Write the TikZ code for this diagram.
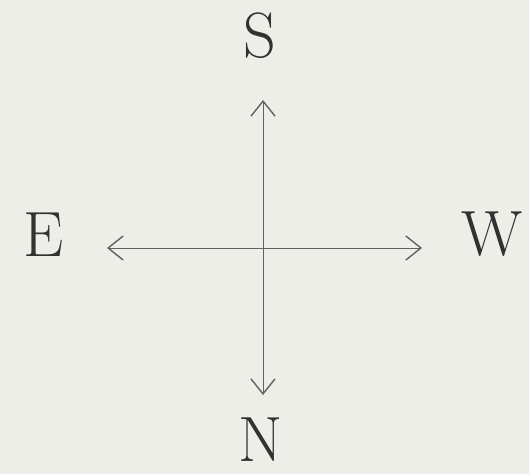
\documentclass[tikz,border=0pt]{standalone}
\usetikzlibrary{arrows.meta}
\definecolor{paper}{RGB}{238,238,233}
\definecolor{ink}{RGB}{70,70,70}
\begin{document}
\begin{tikzpicture}[x=1pt,y=-1pt,
  letter/.style={inner sep=0pt, text=ink!70!black, font=\fontsize{64}{70}\selectfont},
  axis/.style={draw=ink!85, line width=1pt, {Straight Barb[length=15pt,width=24pt,line width=1.4pt]}-{Straight Barb[length=15pt,width=24pt,line width=1.4pt]}}]
\fill[paper] (0,0) rectangle (529,474);
\useasboundingbox (0,0) rectangle (529,474);
\node[letter] (S) at (260,36) {S};
\node[letter] (N) at (261,440) {N};
\node[letter] (E) at (44,235) {E};
\node[letter] (W) at (492,234) {W};
\coordinate (top) at (263,100);
\coordinate (bot) at (263,395);
\coordinate (lft) at (107,248);
\coordinate (rgt) at (422,248);
\draw[axis] (top) -- (bot);
\draw[axis] (lft) -- (rgt);
\end{tikzpicture}
\end{document}
